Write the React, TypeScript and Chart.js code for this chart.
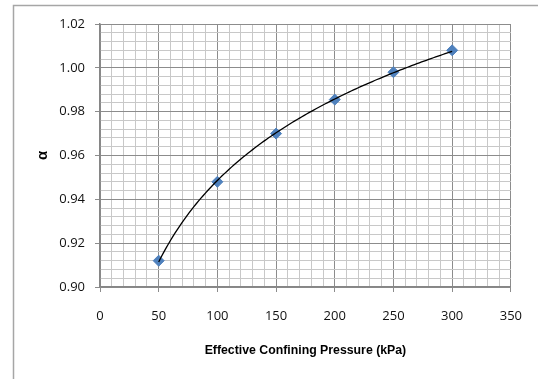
import React, { useEffect, useRef } from "react";
import { Chart, registerables } from "chart.js";

Chart.register(...registerables);

const pressures = [50, 100, 150, 200, 250, 300];
const alphaValues = [0.912, 0.948, 0.970, 0.9855, 0.998, 1.008];
const xTitle = "Effective Confining Pressure (kPa)";
const yTitle = "α";

// logarithmic trendline (least squares fit of the data)
function logTrend(xs: number[], ys: number[]) {
  const n = xs.length;
  const lx = xs.map((x) => Math.log(x));
  const mx = lx.reduce((a, b) => a + b, 0) / n;
  const my = ys.reduce((a, b) => a + b, 0) / n;
  let sxy = 0, sxx = 0;
  for (let i = 0; i < n; i++) {
    sxy += (lx[i] - mx) * (ys[i] - my);
    sxx += (lx[i] - mx) * (lx[i] - mx);
  }
  const a = sxy / sxx;
  const b = my - a * mx;
  const pts: { x: number; y: number }[] = [];
  const x0 = Math.min(...xs), x1 = Math.max(...xs);
  for (let x = x0; x <= x1 + 1e-9; x += 2) pts.push({ x, y: a * Math.log(x) + b });
  return pts;
}

const framePlugin = {
  id: "frame",
  beforeDraw(chart: any) {
    const ctx = chart.ctx;
    ctx.save();
    ctx.fillStyle = "#ffffff";
    ctx.fillRect(0, 0, chart.width, chart.height);
    ctx.strokeStyle = "#a6a6a6";
    ctx.lineWidth = 1.5;
    ctx.beginPath();
    ctx.moveTo(13.5, chart.height + 2);
    ctx.lineTo(13.5, 5.5);
    ctx.lineTo(chart.width + 2, 5.5);
    ctx.stroke();
    ctx.restore();
  },
};

const isMajorX = (v: number) => Math.abs(v / 50 - Math.round(v / 50)) < 1e-6;
const isMajorY = (v: number) => Math.abs(v * 50 - Math.round(v * 50)) < 1e-6;

export default function App() {
  const ref = useRef<HTMLCanvasElement | null>(null);
  useEffect(() => {
    if (!ref.current) return;
    const chart = new Chart(ref.current, {
      type: "scatter",
      data: {
        datasets: [
          {
            label: "trend",
            data: logTrend(pressures, alphaValues),
            showLine: true,
            borderColor: "#000000",
            borderWidth: 1.3,
            pointRadius: 0,
            tension: 0,
          },
          {
            label: "α",
            data: pressures.map((p, i) => ({ x: p, y: alphaValues[i] })),
            pointStyle: "rectRot",
            pointRadius: 5.5,
            backgroundColor: "#4F81BD",
            borderColor: "#4F81BD",
            borderWidth: 1,
          },
        ],
      },
      options: {
        responsive: false,
        animation: false,
        layout: { padding: { left: 14, right: 25, top: 24, bottom: 0 } },
        plugins: { legend: { display: false }, tooltip: { enabled: false } },
        scales: {
          x: {
            type: "linear",
            min: 0,
            max: 350,
            afterFit: (s: any) => { s.height = 92; },
            ticks: {
              stepSize: 10,
              autoSkip: false,
              maxRotation: 0,
              padding: 16,
              color: "#111",
              font: { family: "Open Sans", size: 13 },
              callback: (v: any) => (isMajorX(Number(v)) ? String(Math.round(Number(v))) : ""),
            },
            grid: {
              color: (c: any) => (isMajorX(c.tick.value) ? "#8c8c8c" : "#c8c8c8"),
              tickColor: (c: any) => (isMajorX(c.tick.value) ? "#8c8c8c" : "rgba(0,0,0,0)"),
              tickLength: 5,
              lineWidth: 1,
            },
            border: { display: true, color: "#868686", width: 1.5 },
            title: {
              display: true,
              text: xTitle,
              color: "#000",
              font: { family: "Liberation Sans", size: 12.3, weight: "bold" },
              padding: { top: 0, bottom: 21 },
            },
          },
          y: {
            type: "linear",
            min: 0.9,
            max: 1.02,
            afterFit: (s: any) => { s.width = 86; },
            ticks: {
              stepSize: 0.004,
              autoSkip: false,
              padding: 10,
              color: "#111",
              font: { family: "Open Sans", size: 13 },
              callback: (v: any) => (isMajorY(Number(v)) ? Number(v).toFixed(2) : ""),
            },
            grid: {
              color: (c: any) => (isMajorY(c.tick.value) ? "#8c8c8c" : "#c8c8c8"),
              tickColor: (c: any) => (isMajorY(c.tick.value) ? "#8c8c8c" : "rgba(0,0,0,0)"),
              tickLength: 5,
              lineWidth: 1,
            },
            border: { display: true, color: "#868686", width: 1.5 },
            title: {
              display: true,
              text: yTitle,
              color: "#000",
              font: { family: "Liberation Sans", size: 15, weight: "bold" },
              padding: { top: 20, bottom: 0 },
            },
          },
        },
      },
      plugins: [framePlugin],
    });
    return () => chart.destroy();
  }, []);
  return (
    <div style={{ position: "absolute", left: 0, top: 0, width: 538, height: 379 }}>
      <canvas ref={ref} width={538} height={379} />
    </div>
  );
}
